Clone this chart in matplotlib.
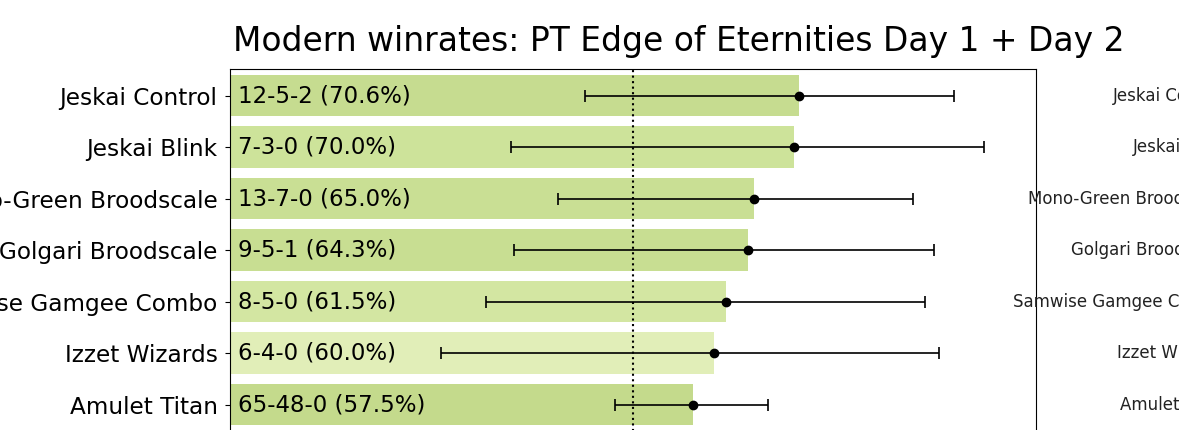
import matplotlib.pyplot as plt
import matplotlib.transforms as mtransforms

# data, top row first
decks = ["Jeskai Control", "Jeskai Blink", "Mono-Green Broodscale",
         "Golgari Broodscale", "Samwise Gamgee Combo", "Izzet Wizards",
         "Amulet Titan"]
records = ["12-5-2", "7-3-0", "13-7-0", "9-5-1", "8-5-0", "6-4-0", "65-48-0"]
winrates = [0.706, 0.700, 0.650, 0.643, 0.615, 0.600, 0.575]
ci_low = [0.441, 0.349, 0.407, 0.352, 0.317, 0.262, 0.478]
ci_high = [0.898, 0.935, 0.847, 0.873, 0.862, 0.880, 0.668]
bar_colors = ["#c6dc90", "#cde39a", "#c9df94", "#c8de92", "#d3e6a2",
              "#e1eeb8", "#c4da8c"]

# where the cut-off labels of the neighbouring panel start (figure px)
right_label_x = [1113, 1133, 1028, 1071, 1013, 1117, 1120]

W, H = 1179, 430
fig = plt.figure(figsize=(W / 100, H / 100), dpi=100)
ax = fig.add_axes([230 / W, -0.1205, 806 / W, 0.96])

ys = list(range(len(decks)))
ax.barh(ys, winrates, height=0.8, color=bar_colors, zorder=1)
xerr = [[w - lo for w, lo in zip(winrates, ci_low)],
        [hi - w for w, hi in zip(winrates, ci_high)]]
ax.errorbar(winrates, ys, xerr=xerr, fmt="o", color="black", ms=6,
            elinewidth=1.2, capsize=4.5, capthick=1.2, zorder=3)
ax.axvline(0.5, color="black", linestyle=":", linewidth=1.5, zorder=2)

for y, rec, w in zip(ys, records, winrates):
    ax.text(0.01, y, f"{rec} ({w * 100:.1f}%)", va="center", ha="left",
            fontsize=16.5, zorder=4)

ax.set_xlim(0, 1)
ax.set_ylim(7.5, -0.515)
ax.set_yticks(ys)
ax.set_yticklabels(decks, fontsize=16.7)
ax.tick_params(axis="y", pad=5.5)
ax.set_xticks([])

fig.text(678.5 / W, 1 - 42 / H, "Modern winrates: PT Edge of Eternities Day 1 + Day 2",
         ha="center", va="center", fontsize=23.7)

trans = mtransforms.blended_transform_factory(fig.transFigure, ax.transData)
for y, name, px in zip(ys, decks, right_label_x):
    ax.text(px / W, y, name, transform=trans, ha="left", va="center",
            fontsize=12, color="#222222", clip_on=False)

fig.savefig("out.png", dpi=100)
